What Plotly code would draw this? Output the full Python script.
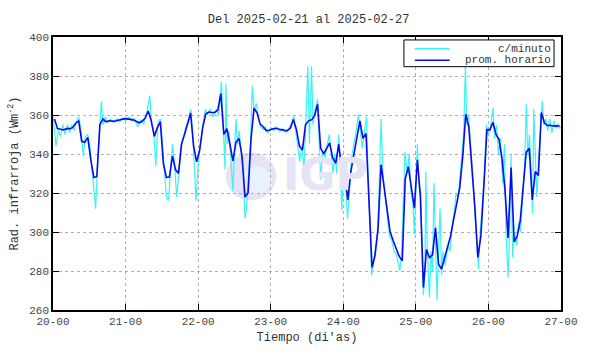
import plotly.graph_objects as go

# Hourly means, plotted at hour centers (hours since 2025-02-20 00:00)
hourly_vals = [
    358, 353, 352.7, 352.3, 353, 353, 353.5, 355.8, 357, 346.5, 346, 348.5,
    337, 328, 328.5, 355, 358, 356.5, 357, 357, 356.8, 357.3, 357.7, 358,
    358, 357.8, 357.5, 356.8, 356, 356.8, 358.5, 362, 357, 349, 353.5, 356.5,
    335, 328, 328.2, 339, 332, 330, 345.2, 350, 355, 361, 344, 336,
    342, 353.5, 360.5, 361.5, 361.3, 361.3, 362.5, 371, 350, 353, 345, 336.5,
    346, 348, 339, 318, 320, 348, 363.5, 361, 355.3, 354, 352, 352.2,
    352.8, 353.2, 352.8, 352.3, 352.1, 352, 353.3, 357.7, 352.6, 344, 342, 355,
    357, 357.5, 359.6, 365.5, 343, 340, 342.5, 345.7, 338, 335.3, 345, 331.5,
    329.1, 316.5, 331, 340.5, 348.5, 357, 348, 350.5, 319, 281.8, 288, 302,
    334.5, 322.5, 309, 300, 295.5, 291, 287.5, 285.2, 327.4, 333.5, 323, 312.2,
    337, 318, 271.6, 291, 286.9, 288.3, 302.1, 283.5, 281, 286.5, 291.5, 298,
    306.5, 315.3, 322.5, 338.5, 360.4, 354, 335, 313, 287, 298, 324, 352.5,
    352.4, 356.2, 350, 347.5, 337.5, 321, 297, 333, 295, 297.8, 305.5, 322,
    341, 343, 316.4, 331, 329, 361.3, 356, 354.6, 354.7, 354.4, 354.3, 354.3,
]
hourly_t = [h + 0.5 for h in range(len(hourly_vals))]

# Per-minute series (at its visible turning points)
minute_t = [
    0, 1, 1.7, 2.5, 3.2, 4, 4.8, 5.5, 6.3, 7, 7.8, 8.5, 9.3, 10, 10.7, 11.5, 12.2, 13, 13.6, 14.1,
    14.6, 15.2, 16, 16.5, 17.3, 18, 19, 20, 21, 22, 23, 24, 25, 26, 27, 28, 29, 30, 31, 32,
    32.6, 33.3, 34, 34.7, 35.5, 36.2, 36.8, 37.5, 38.2, 38.8, 39.5, 40.2, 40.9, 41.5, 42.3, 43, 44, 45, 45.6, 46.2,
    46.8, 47.3, 48, 48.8, 49.6, 50.4, 51, 52, 53, 54, 54.8, 55.7, 56.3, 56.9, 57.2, 57.6, 58.2, 58.8, 59.5, 60,
    60.5, 61, 61.6, 62.3, 62.9, 63.5, 64, 64.6, 65.3, 65.9, 66.5, 67.2, 68, 68.7, 69.5, 70.3, 71, 72, 73, 74,
    75, 76, 77, 78, 79, 79.6, 80.3, 81, 81.6, 82.3, 83, 83.7, 84.3, 84.8, 85.5, 86, 86.7, 87.5, 88, 88.5,
    89.2, 90, 90.7, 91.4, 92, 92.6, 93.2, 93.8, 94.5, 95, 95.5, 96, 96.8, 97.4, 98, 98.7, 99.5, 100.3, 101, 101.7,
    102.3, 103, 103.7, 104.2, 104.8, 105.4, 106, 106.8, 107.4, 107.8, 108.5, 109.1, 109.8, 110.5, 111.2, 112, 112.8, 113.5, 114.2, 114.7,
    115.3, 115.8, 116.4, 117.2, 117.8, 118.4, 119, 119.5, 120, 120.5, 121, 121.6, 122.1, 122.5, 123, 123.3, 123.8, 124.2, 124.5, 125,
    125.5, 126, 126.5, 127, 127.5, 128, 128.5, 129, 129.7, 130.5, 131.3, 132, 132.7, 133.3, 134, 134.6, 135.2, 135.8, 136.4, 136.8,
    137.4, 138, 138.8, 139.5, 140.2, 140.7, 141.3, 142, 142.7, 143.3, 144, 144.8, 145.5, 146, 146.7, 147.3, 148, 148.7, 149.3, 149.8,
    150.5, 151, 151.5, 152, 152.6, 153.3, 154, 154.6, 155.3, 156, 156.5, 157, 157.6, 158.2, 158.6, 159, 159.5, 160, 160.6, 161.2,
    161.8, 162.3, 163, 163.6, 164.3, 165, 165.7, 166.4, 167, 167.6, 168,
]
minute_vals = [
    360, 344, 352, 349, 355, 350, 355, 351, 355, 352, 357, 359, 352, 339, 349, 350, 344, 331, 322, 312,
    330, 345, 367, 355, 359, 356, 358, 356, 358, 356.5, 358.5, 357, 359, 357, 358, 354, 357.5, 355.5, 361, 370,
    355, 352, 334, 356, 358, 345, 330, 318, 316, 330, 345, 335, 318, 328, 342, 348, 354, 357, 363, 350,
    332, 316, 335, 346, 355, 363, 360, 363, 359, 363, 360, 377, 352, 332, 376, 345, 352, 335, 321, 340,
    358, 345, 352, 340, 330, 307, 312, 328, 345, 374.8, 362, 366, 358, 354, 352.5, 354, 350.5, 353.5, 352, 354,
    351.5, 353, 351, 353, 356, 360, 351, 345, 336, 345, 332, 360, 385, 345, 385, 355, 363, 368, 350, 327,
    342, 338, 345, 350, 340, 330, 340, 330, 350, 335, 311, 332, 325, 306.6, 320, 338, 345, 352, 360.4, 352,
    343, 352, 359, 330, 300, 277.7, 285, 295, 300, 320, 358, 330, 318, 310, 298, 296, 290, 289, 283, 280,
    290, 310, 341, 330, 340, 320, 315, 298.7, 325, 345, 325, 320, 285, 267.6, 280, 330.8, 290, 275, 266.6, 290,
    280, 325, 295, 265, 290, 312, 278, 290, 283, 293, 290, 303, 310, 320, 318, 330, 340, 350, 386, 355,
    360, 348, 330, 310, 295, 281, 300, 315, 330, 355, 350, 355, 363.8, 348, 355, 340, 348, 325, 345, 300,
    276.7, 300, 340, 287, 300, 293, 305, 300, 318, 335, 365.5, 340, 350, 325, 309.7, 363, 335, 318, 335, 350,
    367.2, 355, 358, 352, 358, 351, 357, 353, 355.5, 353, 354,
]

series_names = ["c/minuto", "prom. horario"]
tick_vals = [0, 24, 48, 72, 96, 120, 144, 168]
tick_text = ["20-00", "21-00", "22-00", "23-00", "24-00", "25-00", "26-00", "27-00"]
y_ticks = [260, 280, 300, 320, 340, 360, 380, 400]

font_mono = "Liberation Mono, Courier New, monospace"
cyan_col = "#3ef2f2"
blue_col = "#0a0aee"

fig = go.Figure()
fig.add_trace(go.Scatter(
    x=minute_t, y=minute_vals, mode="lines", name=series_names[0],
    line=dict(color=cyan_col, width=1.2), showlegend=False,
))
fig.add_trace(go.Scatter(
    x=hourly_t, y=hourly_vals, mode="lines", name=series_names[1],
    line=dict(color=blue_col, width=1.6), showlegend=False,
))

# Watermark logo
fig.add_shape(type="circle", xref="x", yref="y", xsizemode="pixel", ysizemode="pixel",
              xanchor=65.5, yanchor=328.5, x0=-25, x1=25, y0=-24, y1=24,
              fillcolor="#e4e4f6", line=dict(width=0), layer="below")
fig.add_shape(type="circle", xref="x", yref="y", xsizemode="pixel", ysizemode="pixel",
              xanchor=67.5, yanchor=326.5, x0=-14, x1=14, y0=-14, y1=14,
              fillcolor="#e8f2fc", line=dict(width=0), layer="below")
fig.add_annotation(x=90, y=329.5, xref="x", yref="y", text="<b>IGP</b>", showarrow=False,
                   font=dict(family="DejaVu Sans, Arial, sans-serif", size=44, color="#e4e4f6"))

# Legend drawn as a box (paper coordinates of the plot area)
def px_x(p):
    return (p - 53) / 511.0

def px_y(p):
    return (313 - p) / 276.0

fig.add_shape(type="rect", xref="paper", yref="paper",
              x0=px_x(406), x1=px_x(557), y0=px_y(67), y1=px_y(40),
              fillcolor="white", line=dict(color="black", width=1), layer="above")
for i, (name, col) in enumerate(zip(series_names, [cyan_col, blue_col])):
    yy = px_y(49 + 11.5 * i)
    fig.add_shape(type="line", xref="paper", yref="paper",
                  x0=px_x(417), x1=px_x(452), y0=yy, y1=yy,
                  line=dict(color=col, width=1.5), layer="above")
    fig.add_annotation(xref="paper", yref="paper", x=px_x(556), y=yy, text=name,
                       xanchor="right", yanchor="middle", showarrow=False,
                       font=dict(family=font_mono, size=11, color="#333333"))

axis_common = dict(
    showline=True, linecolor="black", linewidth=1.5, mirror="ticks",
    ticks="inside", ticklen=6, tickcolor="black", tickwidth=1,
    showgrid=True, gridcolor="#b0b0b0", gridwidth=1, griddash="dot",
    zeroline=False,
    tickfont=dict(family=font_mono, size=11, color="#444444"),
)

fig.update_layout(
    width=590, height=354,
    margin=dict(l=53, r=26, t=37, b=41),
    paper_bgcolor="white", plot_bgcolor="white",
    title=dict(text="Del 2025-02-21 al 2025-02-27", x=0.523, xanchor="center", y=0.948, yanchor="middle",
               font=dict(family=font_mono, size=12, color="#333333")),
    xaxis=dict(range=[0, 168], tickvals=tick_vals, ticktext=tick_text,
               title=dict(text="Tiempo (di'as)", standoff=6,
                          font=dict(family=font_mono, size=12, color="#333333")),
               **axis_common),
    yaxis=dict(range=[260, 400], tickvals=y_ticks,
               title=dict(text="Rad. infrarroja (Wm<sup>-2</sup>)", standoff=8,
                          font=dict(family=font_mono, size=12, color="#333333")),
               **axis_common),
    showlegend=False,
)

fig.write_html("out.html")
